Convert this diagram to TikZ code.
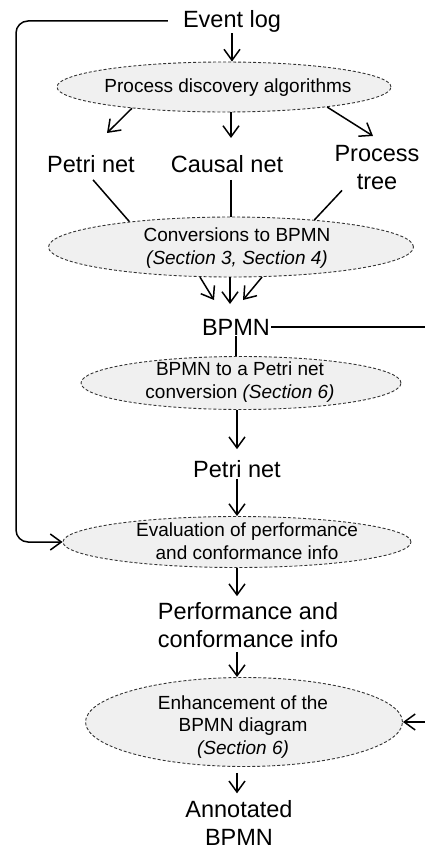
\documentclass[tikz,border=0pt]{standalone}
\usepackage{fontspec}
\setmainfont{Liberation Sans}
\usetikzlibrary{shapes.geometric,arrows.meta,calc}
\definecolor{efill}{HTML}{F0F0F0}
\definecolor{edraw}{HTML}{333333}
\begin{document}
\begin{tikzpicture}[x=1pt,y=-1pt,
  lbl/.style={font=\fontsize{23.5}{28}\selectfont, align=center, inner sep=1pt},
  etxt/.style={font=\fontsize{19}{22.5}\selectfont, align=center, inner sep=0pt},
  ell/.style={ellipse, draw=edraw, dash pattern=on 3pt off 2pt, fill=efill, line width=0.9pt, inner sep=0pt},
  ln/.style={line width=1.5pt},
  arr/.style={line width=1.5pt, -{Straight Barb[length=11pt,width=16pt]}}]
\useasboundingbox (0,0) rectangle (424,850);

% labels
\node[lbl] (evlog) at (232,21) {Event log};
\node[lbl] (petri1) at (91,164) {Petri net};
\node[lbl] (causal) at (227,164) {Causal net};
\node[lbl] (ptree) at (377,168) {Process\\tree};
\node[lbl] (bpmn) at (236,327) {BPMN};
\node[lbl] (petri2) at (237,469) {Petri net};
\node[lbl] (perf) at (248,625) {Performance and\\conformance info};
\node[lbl] (annot) at (239,823) {Annotated\\BPMN};

% ellipses
\node[ell, minimum width=334pt, minimum height=50pt] (pda) at (224,87) {};
\node[etxt] (pdat) at (228,88) {Process discovery algorithms};
\node[ell, minimum width=365pt, minimum height=60pt] (conv) at (231,247) {};
\node[etxt] (convt) at (237,248) {Conversions to BPMN\\\textit{(Section 3, Section 4)}};
\node[ell, minimum width=320pt, minimum height=53pt] (ptpn) at (241,383) {};
\node[etxt] (ptpnt) at (240,382) {BPMN to a Petri net\\conversion \textit{(Section 6)}};
\node[ell, minimum width=348pt, minimum height=51pt] (eval) at (237,542) {};
\node[etxt] (evalt) at (247,541) {Evaluation of performance\\and conformance info};
\node[ell, minimum width=317pt, minimum height=89pt] (enh) at (244,722) {};
\node[etxt] (enht) at (243,727) {Enhancement of the\\BPMN diagram\\\textit{(Section 6)}};

% coordinates
\coordinate (c1) at (16,21);
\coordinate (c2) at (16,542);
\coordinate (t1) at (107,133);
\coordinate (t2) at (231,138);
\coordinate (t3) at (373,136);
\coordinate (b1) at (214,300);
\coordinate (b2) at (230,304);
\coordinate (b3) at (243,300);
\coordinate (r1) at (427,327);
\coordinate (r2) at (427,722);

% connectors
\draw[arr, rounded corners=12pt, shorten <=14pt] (evlog.west) -- (c1) -- (c2) -- (eval.west);
\draw[arr] (evlog.south) -- (evlog.south |- pda.north);
\draw[arr] (pda.-167) -- (t1);
\draw[arr] (pda.south -| t2) -- (t2);
\draw[arr] (pda.-11) -- (t3);
\draw[ln] ($(petri1.south)+(2,6)$) -- (conv.166);
\draw[ln, shorten <=6pt] (causal.south -| conv.north) -- (conv.north);
\draw[ln] ($(ptree.south)+(-35,-1)$) -- (conv.18);
\draw[arr] (conv.-136) -- (b1);
\draw[arr] (conv.south -| b2) -- (b2);
\draw[arr] (conv.-44) -- (b3);
\draw[ln] (bpmn.south) -- (bpmn.south |- ptpn.north);
\draw[arr] (bpmn.east) -- (r1) -- (r2) -- (enh.east);
\draw[arr, shorten >=10pt] (ptpn.south -| petri2.north) -- (petri2.north);
\draw[arr] (petri2.south) -- (eval.north);
\draw[arr, shorten >=5pt] (eval.south) -- (eval.south |- perf.north);
\draw[arr, shorten <=3pt] (perf.south -| eval.south) -- (eval.south |- enh.north);
\draw[arr, shorten <=6pt, shorten >=6pt] (enh.south -| eval.south) -- (eval.south |- annot.north);
\end{tikzpicture}
\end{document}
